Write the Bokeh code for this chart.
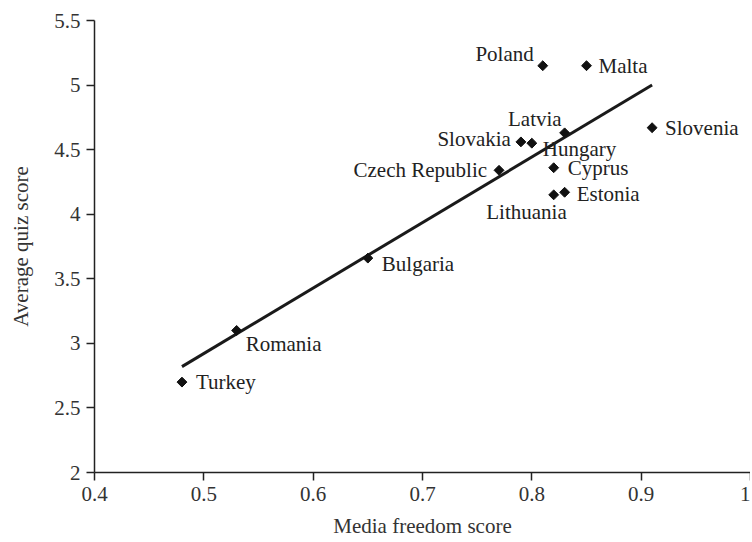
import numpy as np
from bokeh.plotting import figure
from bokeh.models import ColumnDataSource, FixedTicker, Range1d
from bokeh.core.properties import value
from bokeh.embed import file_html
from bokeh.resources import INLINE

countries = ["Turkey", "Romania", "Bulgaria", "Czech Republic", "Slovakia", "Hungary",
             "Latvia", "Poland", "Malta", "Slovenia", "Cyprus", "Estonia", "Lithuania"]
media_freedom = [0.48, 0.53, 0.65, 0.77, 0.79, 0.80, 0.83, 0.81, 0.85, 0.91, 0.82, 0.83, 0.82]
quiz_score = [2.70, 3.10, 3.66, 4.34, 4.56, 4.55, 4.63, 5.15, 5.15, 4.67, 4.36, 4.17, 4.15]

fit_x = [0.48, 0.91]
fit_y = [2.82, 5.00]

x_ticks = [0.4, 0.5, 0.6, 0.7, 0.8, 0.9, 1.0]
y_ticks = [2, 2.5, 3, 3.5, 4, 4.5, 5, 5.5]

# label placement (style)
align = ["left", "left", "left", "right", "right", "left",
         "right", "right", "left", "left", "left", "left", "right"]
dx = [14, 9, 14, -12, -10, 11, -3, -9, 12, 13, 14, 12, 13]
dy = [0, 14, 6, 0, -3, 6, -14, -12, 0, 0, 0, 2, 17]

FONT = "Liberation Serif"

src = ColumnDataSource(dict(x=media_freedom, y=quiz_score, name=countries,
                            align=align, dx=dx, dy=dy))

p = figure(width=750, height=542, output_backend="svg", toolbar_location=None,
           x_range=Range1d(0.4, 1.0), y_range=Range1d(2, 5.5),
           min_border_left=94, min_border_top=20, min_border_right=0, min_border_bottom=70)
p.outline_line_color = None
p.xgrid.grid_line_color = None
p.ygrid.grid_line_color = None
p.background_fill_color = "white"
p.border_fill_color = "white"

p.line(fit_x, fit_y, line_color="#1a1a1a", line_width=3)
p.scatter("x", "y", source=src, marker="square", angle=np.pi / 4, size=7,
          fill_color="#111111", line_color="#111111")
p.text("x", "y", text="name", source=src, text_align="align", x_offset="dx", y_offset="dy",
       text_baseline="middle", text_font=value(FONT), text_font_size="21px", text_color="#222222")

for ax in (p.xaxis[0], p.yaxis[0]):
    ax.axis_line_color = "#222222"
    ax.axis_line_width = 1.5
    ax.major_tick_line_color = "#222222"
    ax.major_tick_line_width = 1.5
    ax.major_tick_out = 8
    ax.major_tick_in = 0
    ax.minor_tick_line_color = None
    ax.major_label_text_font = FONT
    ax.major_label_text_font_size = "21px"
    ax.major_label_text_color = "#333333"
    ax.axis_label_text_font = FONT
    ax.axis_label_text_font_size = "21px"
    ax.axis_label_text_font_style = "normal"
    ax.axis_label_text_color = "#333333"

p.xaxis.ticker = FixedTicker(ticks=x_ticks)
p.yaxis.ticker = FixedTicker(ticks=y_ticks)
p.xaxis.major_label_overrides = {1.0: "1"}
p.xaxis.axis_label = "Media freedom score"
p.yaxis.axis_label = "Average quiz score"
p.xaxis.major_label_standoff = 6
p.yaxis.major_label_standoff = 6
p.xaxis.axis_label_standoff = 10
p.yaxis.axis_label_standoff = 18

open("out.html", "w").write(file_html(p, INLINE))
